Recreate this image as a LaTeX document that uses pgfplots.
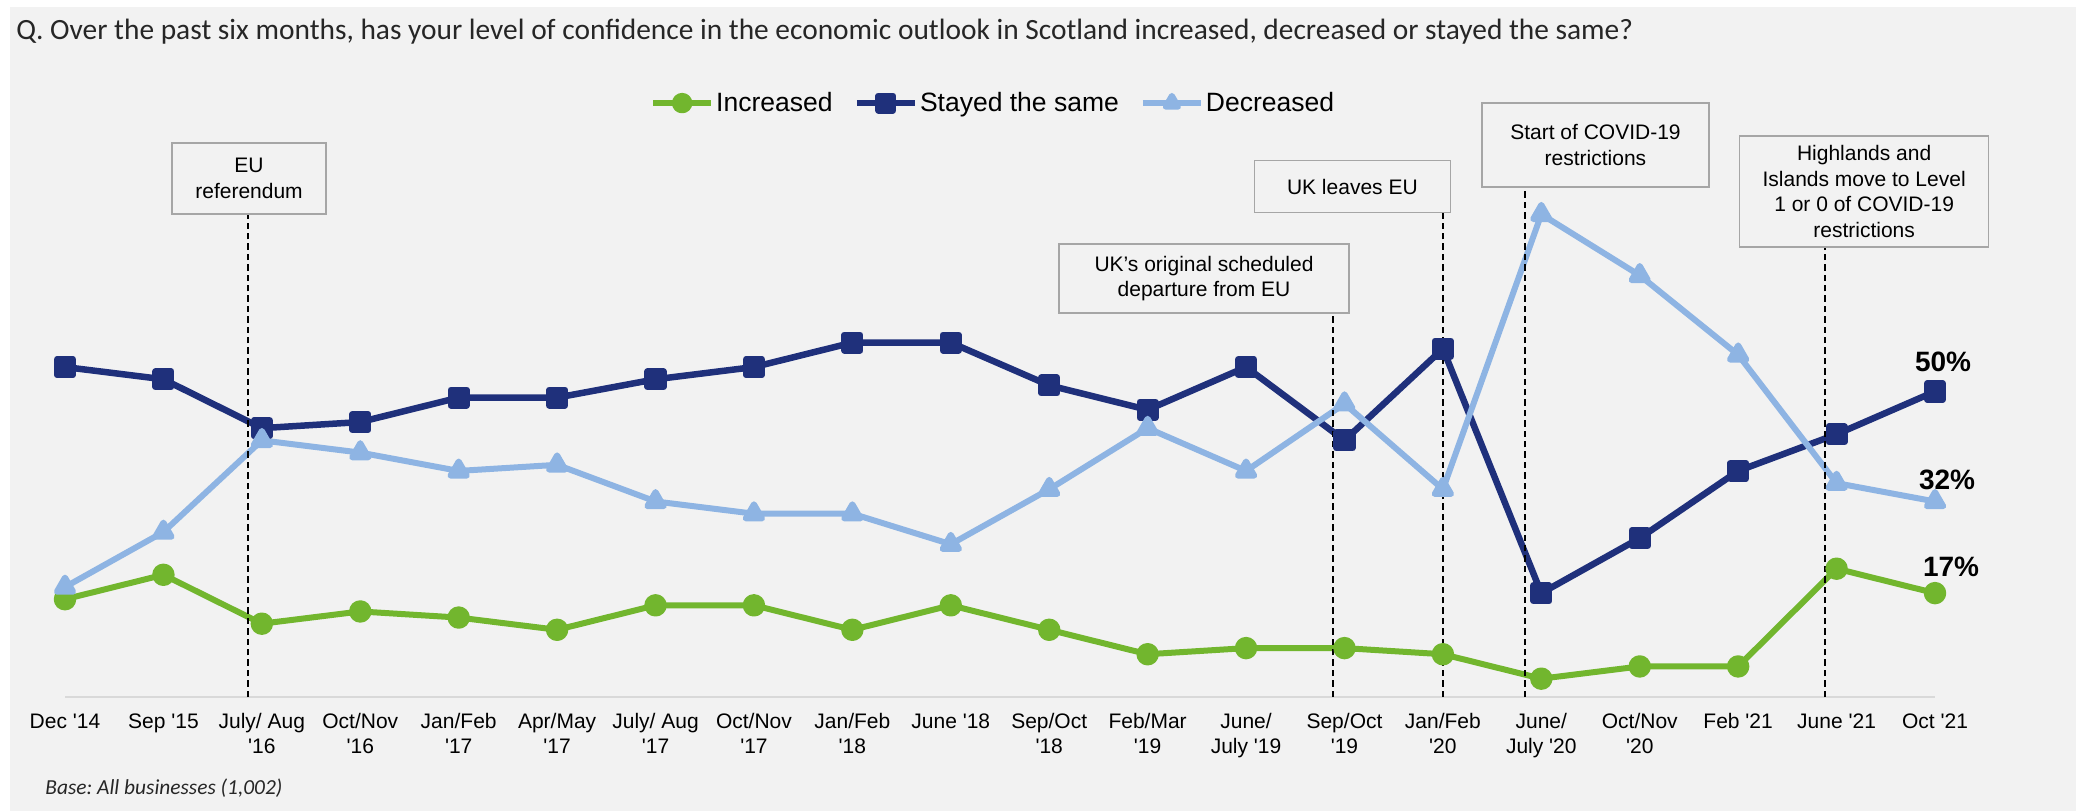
\documentclass[border=0pt]{standalone}
\usepackage{fontspec}
\setmainfont{Liberation Sans}
\newfontfamily\calibri{Carlito}
\usepackage{pgfplots}
\pgfplotsset{compat=1.18}
\definecolor{bg}{HTML}{F2F2F2}
\definecolor{cgreen}{HTML}{72B62E}
\definecolor{cnavy}{HTML}{1F307B}
\definecolor{clight}{HTML}{8EB4E3}
\definecolor{boxgray}{HTML}{A6A6A6}
\definecolor{axgray}{HTML}{D9D9D9}
\definecolor{titlegray}{HTML}{262626}

\begin{document}
\begin{tikzpicture}
\path[use as bounding box] (0,0) rectangle (1038bp,405.5bp);
\fill[bg] (5bp,0) rectangle (1038bp,402bp);
\node[anchor=base west, font=\calibri\fontsize{14.7bp}{17bp}\selectfont, text=titlegray, inner sep=0pt] at (8bp,385.9bp) {Q. Over the past six months, has your level of confidence in the economic outlook in Scotland increased, decreased or stayed the same?};
\node[anchor=base west, font=\calibri\itshape\fontsize{10.7bp}{12bp}\selectfont, text=titlegray, inner sep=0pt] at (22.5bp,8.5bp) {Base:\ All businesses (1,002)};
\begin{axis}[
  at={(32.5bp,57bp)}, anchor=south west,
  scale only axis, width=935bp, height=305.5bp,
  xmin=0, xmax=19, ymin=0, ymax=100,
  axis y line=none, axis x line*=bottom,
  x axis line style={axgray, line width=1bp},
  xtick={0,...,19}, major tick length=0pt,
  xticklabels={{Dec \textquotesingle14},{Sep \textquotesingle15},{July/ Aug\\\textquotesingle16},{Oct/Nov\\\textquotesingle16},{Jan/Feb\\\textquotesingle17},{Apr/May\\\textquotesingle17},{July/ Aug\\\textquotesingle17},{Oct/Nov\\\textquotesingle17},{Jan/Feb\\\textquotesingle18},{June \textquotesingle18},{Sep/Oct\\\textquotesingle18},{Feb/Mar\\\textquotesingle19},{June/\\July \textquotesingle19},{Sep/Oct\\\textquotesingle19},{Jan/Feb\\\textquotesingle20},{June/\\July \textquotesingle20},{Oct/Nov\\\textquotesingle20},{Feb \textquotesingle21},{June \textquotesingle21},{Oct \textquotesingle21}},
  typeset ticklabels with strut,
  xticklabel style={align=center, anchor=north, inner sep=0pt, yshift=-6.9bp, font=\fontsize{10.5bp}{12.5bp}\selectfont},
  clip=false,
  legend columns=3,
  legend style={at={(0.4963,0.972)}, anchor=center, draw=none, fill=none,
    font=\fontsize{13.25bp}{15bp}\selectfont,
    /tikz/every even column/.append style={column sep=9.5bp},
    inner sep=0pt, nodes={inner sep=1bp}},
  legend image code/.code={\draw[mark repeat=2, mark phase=2, #1, mark size=3.6bp] plot coordinates {(0bp,0bp) (14.5bp,0bp) (29bp,0bp)};},
  every axis plot/.append style={line join=round},
]
\addplot[cgreen, line width=3bp, mark=*, mark size=4.1bp, mark options={solid}] coordinates {
(0,16) (1,20) (2,12) (3,14) (4,13) (5,11) (6,15) (7,15) (8,11) (9,15)
(10,11) (11,7) (12,8) (13,8) (14,7) (15,3) (16,5) (17,5) (18,21) (19,17)};
\addlegendentry{Increased}
\addplot[cnavy, line width=3.25bp, mark=square*, mark size=3.9bp, mark options={solid}] coordinates {
(0,54) (1,52) (2,44) (3,45) (4,49) (5,49) (6,52) (7,54) (8,58) (9,58)
(10,51) (11,47) (12,54) (13,42) (14,57) (15,17) (16,26) (17,37) (18,43) (19,50)};
\addlegendentry{Stayed the same}
\addplot[clight, line width=3bp, mark=triangle*, mark size=4.7bp, mark options={solid}] coordinates {
(0,18) (1,27) (2,42) (3,40) (4,37) (5,38) (6,32) (7,30) (8,30) (9,25)
(10,34) (11,44) (12,37) (13,48) (14,34) (15,79) (16,69) (17,56) (18,35) (19,32)};
\addlegendentry{Decreased}

\draw[black, line width=1bp, dash pattern=on 3.2bp off 2bp] (axis cs:1.86,0) -- (axis cs:1.86,79.05);
\draw[black, line width=1bp, dash pattern=on 3.2bp off 2bp] (axis cs:12.88,0) -- (axis cs:12.88,62.85);
\draw[black, line width=1bp, dash pattern=on 3.2bp off 2bp] (axis cs:14.0,0) -- (axis cs:14.0,79.4);
\draw[black, line width=1bp, dash pattern=on 3.2bp off 2bp] (axis cs:14.83,0) -- (axis cs:14.83,83.5);
\draw[black, line width=1bp, dash pattern=on 3.2bp off 2bp] (axis cs:17.88,0) -- (axis cs:17.88,73.65);

\tikzset{annot/.style={draw=boxgray, line width=0.75bp, fill=bg, align=center, inner sep=0pt, font=\fontsize{10.5bp}{12.75bp}\selectfont}}
\node[annot, minimum width=77bp, minimum height=35.5bp] at (axis cs:1.87,84.86) {EU\\referendum};
\node[annot, minimum width=145bp, minimum height=34.5bp] at (axis cs:11.573,68.49) {UK’s original scheduled\\departure from EU};
\node[annot, minimum width=98bp, minimum height=26bp] at (axis cs:13.08,83.55) {UK leaves EU};
\node[annot, minimum width=113.5bp, minimum height=42bp] at (axis cs:15.55,90.34) {Start of COVID-19\\restrictions};
\node[annot, minimum width=124.5bp, minimum height=55.5bp] at (axis cs:18.28,82.73) {Highlands and\\Islands move to Level\\1 or 0 of COVID-19\\restrictions};

\node[anchor=base, xshift=4bp, font=\bfseries\fontsize{14bp}{16bp}\selectfont] at (axis cs:19,53.2) {50\%};
\node[anchor=base, xshift=6bp, font=\bfseries\fontsize{14bp}{16bp}\selectfont] at (axis cs:19,34.0) {32\%};
\node[anchor=base, xshift=8bp, font=\bfseries\fontsize{14bp}{16bp}\selectfont] at (axis cs:19,19.8) {17\%};
\end{axis}
\end{tikzpicture}
\end{document}
